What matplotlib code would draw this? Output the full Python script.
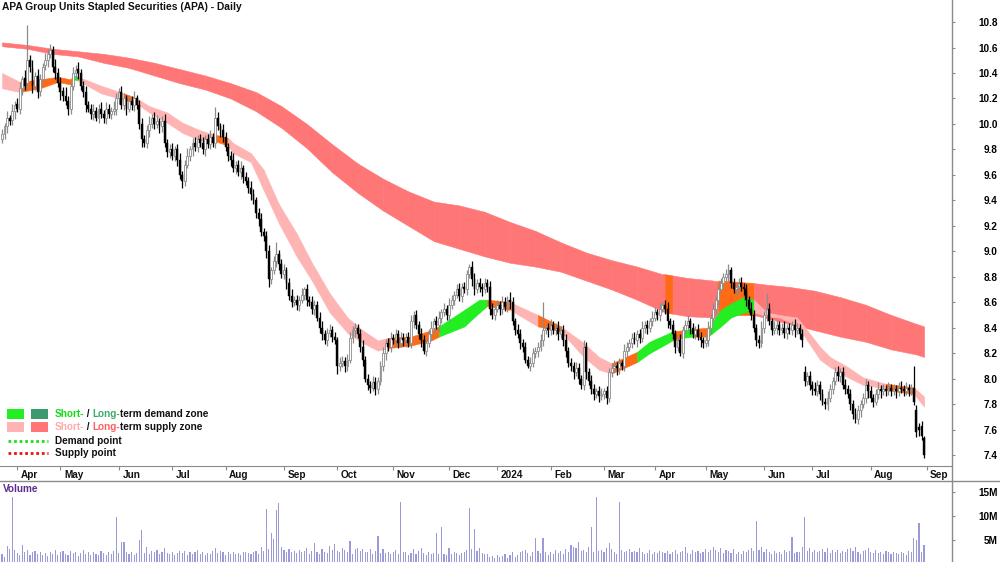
import numpy as np
import pandas as pd
import matplotlib
matplotlib.use("Agg")
import matplotlib.pyplot as plt
from matplotlib.lines import Line2D
from matplotlib.patches import Rectangle

plt.rcParams['font.family'] = ['Liberation Sans', 'DejaVu Sans']

# ---------------- data ----------------
title = "APA Group Units Stapled Securities (APA) - Daily"
holidays = ["2023-04-07", "2023-04-10", "2023-04-25", "2023-06-12", "2023-12-25",
            "2023-12-26", "2024-01-01", "2024-01-26", "2024-03-29", "2024-04-01",
            "2024-04-25", "2024-06-10"]
month_labels = ["Apr", "May", "Jun", "Jul", "Aug", "Sep", "Oct", "Nov", "Dec", "2024",
                "Feb", "Mar", "Apr", "May", "Jun", "Jul", "Aug", "Sep"]

close = [
    9.92, 9.98, 10.05, 10.02, 10.10, 10.15, 10.12, 10.28, 10.35, 10.30,
    10.50, 10.45, 10.30, 10.38, 10.25, 10.35, 10.45, 10.50, 10.55, 10.58,
    10.45, 10.40, 10.32, 10.25, 10.22, 10.18, 10.12, 10.30, 10.40, 10.42,
    10.40, 10.30, 10.25, 10.15, 10.12, 10.08, 10.10, 10.05, 10.12, 10.08,
    10.05, 10.12, 10.08, 10.10, 10.12, 10.20, 10.25, 10.15, 10.20, 10.12,
    10.18, 10.15, 10.20, 10.15, 10.00, 9.88, 9.85, 9.95, 10.00, 10.05,
    10.00, 10.02, 9.98, 10.02, 9.85, 9.78, 9.80, 9.75, 9.80, 9.72,
    9.60, 9.55, 9.68, 9.75, 9.80, 9.85, 9.82, 9.88, 9.85, 9.80,
    9.88, 9.84, 9.90, 9.85, 10.05, 9.98, 9.95, 9.90, 9.82, 9.75,
    9.72, 9.65, 9.68, 9.62, 9.65, 9.58, 9.55, 9.50, 9.45, 9.40,
    9.30, 9.25, 9.15, 9.12, 9.00, 8.78, 8.85, 8.92, 8.98, 8.90,
    8.82, 8.85, 8.75, 8.65, 8.60, 8.62, 8.58, 8.62, 8.66, 8.70,
    8.62, 8.60, 8.55, 8.58, 8.48, 8.40, 8.35, 8.30, 8.36, 8.38,
    8.33, 8.30, 8.10, 8.12, 8.14, 8.10, 8.15, 8.32, 8.38, 8.40,
    8.35, 8.25, 8.15, 8.00, 7.95, 7.93, 7.97, 7.92, 7.98, 8.10,
    8.20, 8.28, 8.25, 8.32, 8.30, 8.35, 8.28, 8.32, 8.30, 8.33,
    8.28, 8.45, 8.50, 8.42, 8.35, 8.30, 8.22, 8.28, 8.35, 8.40,
    8.45, 8.42, 8.48, 8.52, 8.55, 8.50, 8.58, 8.62, 8.66, 8.70,
    8.65, 8.72, 8.70, 8.82, 8.88, 8.78, 8.70, 8.75, 8.72, 8.70,
    8.75, 8.72, 8.55, 8.50, 8.55, 8.58, 8.55, 8.60, 8.56, 8.62,
    8.60, 8.45, 8.38, 8.35, 8.28, 8.25, 8.15, 8.10, 8.12, 8.20,
    8.22, 8.25, 8.30, 8.38, 8.40, 8.38, 8.42, 8.38, 8.40, 8.35,
    8.38, 8.30, 8.22, 8.12, 8.10, 8.05, 8.08, 8.00, 7.95, 8.25,
    8.05, 7.98, 7.92, 7.88, 7.90, 7.86, 7.88, 7.90, 7.85, 8.05,
    8.08, 8.10, 8.08, 8.12, 8.10, 8.22, 8.25, 8.28, 8.32, 8.30,
    8.35, 8.32, 8.40, 8.42, 8.40, 8.45, 8.48, 8.52, 8.50, 8.55,
    8.58, 8.55, 8.45, 8.42, 8.35, 8.25, 8.30, 8.20, 8.38, 8.42,
    8.45, 8.40, 8.35, 8.38, 8.33, 8.30, 8.28, 8.30, 8.40, 8.48,
    8.55, 8.62, 8.70, 8.75, 8.80, 8.82, 8.85, 8.75, 8.70, 8.72,
    8.75, 8.72, 8.70, 8.62, 8.55, 8.50, 8.40, 8.30, 8.28, 8.40,
    8.50, 8.55, 8.45, 8.38, 8.40, 8.42, 8.38, 8.40, 8.36, 8.40,
    8.38, 8.42, 8.38, 8.40, 8.35, 8.30, 7.98, 8.02, 7.95, 7.92,
    7.90, 7.95, 7.88, 7.82, 7.80, 7.85, 7.92, 7.98, 8.05, 8.02,
    8.05, 7.95, 7.92, 7.88, 7.80, 7.72, 7.68, 7.75, 7.80, 7.85,
    7.95, 7.90, 7.85, 7.82, 7.88, 7.92, 7.90, 7.92, 7.90, 7.93,
    7.90, 7.92, 7.90, 7.93, 7.92, 7.90, 7.93, 7.91, 7.92, 7.82,
    7.58, 7.60, 7.55, 7.40]

open_ = [
    9.88, 9.92, 9.98, 10.05, 10.03, 10.10, 10.16, 10.12, 10.28, 10.36,
    10.32, 10.50, 10.44, 10.30, 10.38, 10.26, 10.35, 10.46, 10.50, 10.55,
    10.58, 10.45, 10.40, 10.32, 10.26, 10.22, 10.18, 10.12, 10.30, 10.40,
    10.43, 10.40, 10.30, 10.25, 10.15, 10.12, 10.08, 10.10, 10.05, 10.12,
    10.08, 10.05, 10.12, 10.08, 10.10, 10.12, 10.20, 10.25, 10.15, 10.20,
    10.12, 10.18, 10.15, 10.20, 10.15, 10.00, 9.88, 9.85, 9.95, 10.00,
    10.05, 10.00, 10.02, 9.98, 10.02, 9.85, 9.78, 9.80, 9.75, 9.80,
    9.72, 9.60, 9.55, 9.68, 9.75, 9.80, 9.85, 9.82, 9.88, 9.85,
    9.80, 9.88, 9.84, 9.90, 9.85, 10.05, 9.98, 9.95, 9.90, 9.82,
    9.75, 9.72, 9.65, 9.68, 9.62, 9.65, 9.58, 9.55, 9.50, 9.45,
    9.40, 9.30, 9.25, 9.15, 9.12, 9.00, 8.78, 8.85, 8.92, 8.98,
    8.90, 8.82, 8.85, 8.75, 8.65, 8.60, 8.62, 8.58, 8.62, 8.66,
    8.70, 8.62, 8.60, 8.55, 8.58, 8.48, 8.40, 8.35, 8.30, 8.36,
    8.38, 8.33, 8.30, 8.10, 8.12, 8.14, 8.10, 8.15, 8.32, 8.38,
    8.40, 8.35, 8.25, 8.15, 8.00, 7.95, 7.93, 7.97, 7.92, 7.98,
    8.10, 8.20, 8.28, 8.25, 8.32, 8.30, 8.35, 8.28, 8.32, 8.30,
    8.33, 8.28, 8.45, 8.50, 8.42, 8.35, 8.30, 8.22, 8.28, 8.35,
    8.40, 8.45, 8.42, 8.48, 8.52, 8.55, 8.50, 8.58, 8.62, 8.66,
    8.70, 8.65, 8.72, 8.70, 8.82, 8.88, 8.78, 8.70, 8.75, 8.72,
    8.70, 8.75, 8.72, 8.55, 8.50, 8.55, 8.58, 8.55, 8.60, 8.56,
    8.62, 8.60, 8.45, 8.38, 8.35, 8.28, 8.25, 8.15, 8.10, 8.12,
    8.20, 8.22, 8.25, 8.30, 8.38, 8.40, 8.38, 8.42, 8.38, 8.40,
    8.35, 8.38, 8.30, 8.22, 8.12, 8.10, 8.05, 8.08, 8.00, 7.95,
    8.25, 8.05, 7.98, 7.92, 7.88, 7.90, 7.86, 7.88, 7.90, 7.85,
    8.05, 8.08, 8.10, 8.08, 8.12, 8.10, 8.22, 8.25, 8.28, 8.32,
    8.30, 8.35, 8.32, 8.40, 8.42, 8.40, 8.45, 8.48, 8.52, 8.50,
    8.55, 8.58, 8.55, 8.45, 8.42, 8.35, 8.25, 8.30, 8.20, 8.38,
    8.42, 8.45, 8.40, 8.35, 8.38, 8.33, 8.30, 8.28, 8.30, 8.40,
    8.48, 8.55, 8.62, 8.70, 8.75, 8.80, 8.82, 8.85, 8.75, 8.70,
    8.72, 8.75, 8.72, 8.70, 8.62, 8.55, 8.50, 8.40, 8.30, 8.28,
    8.40, 8.50, 8.55, 8.45, 8.38, 8.40, 8.42, 8.38, 8.40, 8.36,
    8.40, 8.38, 8.42, 8.38, 8.40, 8.35, 8.05, 7.98, 8.02, 7.95,
    7.92, 7.90, 7.95, 7.88, 7.82, 7.80, 7.85, 7.92, 7.98, 8.05,
    8.02, 8.05, 7.95, 7.92, 7.88, 7.80, 7.72, 7.68, 7.75, 7.80,
    7.85, 7.95, 7.90, 7.85, 7.82, 7.88, 7.92, 7.90, 7.92, 7.90,
    7.93, 7.90, 7.92, 7.90, 7.93, 7.92, 7.90, 7.93, 7.91, 7.93,
    7.75, 7.62, 7.63, 7.53]

# upper / lower wick lengths in cents
upper_wick = [
    4, 3, 5, 2, 6, 3, 4, 5, 3, 6, 28, 4, 6, 3, 5, 4, 3, 6, 4, 5,
    3, 6, 4, 5, 3, 7, 4, 3, 5, 4, 6, 3, 4, 5, 3, 4, 6, 3, 4, 5,
    3, 5, 4, 3, 6, 4, 3, 5, 4, 3, 5, 4, 6, 3, 4, 5, 3, 4, 6, 3,
    4, 5, 3, 4, 6, 3, 4, 5, 3, 4, 5, 3, 4, 6, 3, 4, 5, 3, 4, 5,
    3, 4, 5, 3, 8, 4, 3, 5, 4, 3, 4, 5, 3, 4, 6, 3, 4, 3, 5, 4,
    3, 4, 5, 3, 4, 5, 3, 4, 9, 3, 4, 5, 3, 4, 5, 3, 4, 3, 5, 2,
    4, 3, 5, 4, 3, 4, 5, 3, 4, 5, 3, 4, 3, 5, 4, 3, 4, 5, 3, 4,
    3, 4, 5, 3, 4, 3, 5, 4, 3, 4, 5, 3, 4, 5, 3, 4, 3, 5, 4, 3,
    4, 5, 3, 4, 3, 5, 4, 3, 4, 5, 3, 4, 5, 3, 4, 3, 5, 4, 3, 4,
    5, 3, 4, 3, 2, 4, 5, 3, 4, 3, 4, 3, 5, 4, 3, 4, 3, 5, 4, 3,
    6, 4, 3, 5, 4, 3, 4, 3, 5, 4, 3, 4, 5, 22, 3, 4, 5, 3, 4, 5,
    3, 4, 5, 3, 4, 3, 5, 4, 3, 5, 4, 3, 5, 4, 3, 4, 5, 3, 4, 3,
    4, 5, 3, 4, 3, 5, 4, 3, 4, 5, 3, 4, 5, 3, 4, 3, 5, 4, 3, 4,
    2, 4, 5, 3, 4, 3, 4, 5, 3, 4, 5, 3, 4, 3, 5, 4, 3, 4, 5, 3,
    4, 3, 5, 4, 3, 4, 5, 3, 4, 3, 4, 5, 3, 4, 3, 5, 4, 3, 4, 5,
    3, 12, 4, 3, 5, 4, 3, 4, 5, 3, 4, 3, 5, 4, 3, 4, 5, 3, 4, 3,
    5, 4, 3, 4, 3, 5, 4, 3, 4, 5, 3, 4, 5, 3, 4, 3, 5, 4, 3, 4,
    5, 3, 4, 3, 4, 5, 3, 4, 3, 4, 3, 4, 3, 4, 5, 3, 4, 3, 4, 17,
    4, 3, 4, 2]
lower_wick = [
    3, 4, 5, 3, 4, 6, 3, 4, 5, 3, 5, 4, 6, 3, 5, 4, 3, 4, 5, 3,
    4, 5, 3, 6, 4, 3, 5, 4, 3, 4, 5, 3, 4, 6, 3, 4, 5, 3, 4, 3,
    4, 5, 3, 4, 3, 5, 4, 3, 4, 5, 3, 4, 5, 3, 4, 6, 3, 4, 5, 3,
    4, 3, 5, 4, 3, 4, 5, 3, 4, 5, 3, 5, 4, 3, 4, 5, 3, 4, 3, 4,
    5, 3, 4, 3, 4, 3, 5, 4, 3, 4, 5, 3, 4, 3, 5, 4, 3, 4, 5, 3,
    4, 5, 3, 4, 5, 6, 4, 3, 4, 5, 3, 4, 5, 3, 4, 3, 4, 5, 3, 4,
    5, 3, 4, 5, 3, 4, 5, 3, 4, 3, 4, 3, 6, 4, 3, 5, 4, 3, 4, 5,
    3, 4, 5, 3, 4, 4, 3, 5, 4, 3, 4, 5, 3, 4, 3, 5, 4, 3, 4, 5,
    3, 4, 5, 3, 4, 5, 3, 4, 3, 5, 4, 3, 5, 4, 3, 4, 5, 3, 4, 3,
    4, 5, 3, 4, 3, 5, 4, 3, 4, 5, 3, 4, 5, 3, 4, 3, 5, 4, 3, 4,
    5, 3, 4, 3, 5, 4, 3, 2, 4, 3, 4, 5, 3, 4, 3, 5, 4, 3, 4, 5,
    3, 4, 5, 3, 4, 5, 3, 4, 3, 4, 5, 3, 4, 5, 3, 4, 3, 4, 5, 3,
    4, 3, 5, 4, 3, 4, 5, 3, 4, 3, 5, 4, 3, 4, 5, 3, 4, 3, 4, 5,
    3, 4, 5, 3, 4, 5, 3, 2, 4, 3, 4, 5, 3, 4, 3, 5, 4, 3, 4, 5,
    3, 4, 5, 3, 4, 3, 5, 4, 3, 4, 5, 3, 4, 5, 3, 4, 3, 4, 4, 3,
    4, 5, 3, 4, 3, 5, 4, 3, 4, 5, 3, 4, 5, 3, 4, 5, 4, 3, 4, 5,
    3, 4, 5, 3, 4, 5, 3, 4, 3, 4, 5, 3, 4, 3, 5, 4, 3, 4, 5, 3,
    4, 5, 3, 4, 3, 4, 5, 3, 4, 3, 4, 3, 5, 4, 3, 4, 3, 5, 4, 3,
    4, 5, 3, 2]

volume_m = [
    2.0, 1.5, 3.8, 3.2, 14.0, 3.0, 2.2, 1.8, 4.0, 2.5,
    3.0, 1.8, 2.4, 2.8, 2.0, 2.6, 1.9, 2.2, 1.6, 2.5,
    2.1, 3.0, 1.8, 2.4, 2.7, 2.0, 1.9, 2.8, 2.2, 2.5,
    1.7, 2.3, 2.9, 2.0, 2.4, 1.8, 2.6, 2.1, 1.9, 2.7,
    2.3, 1.8, 2.5, 2.0, 2.8, 9.8, 2.2, 4.6, 4.6, 2.4,
    2.0, 2.6, 1.9, 2.3, 5.0, 7.0, 2.2, 3.5, 2.0, 2.8,
    2.4, 2.9, 2.1, 2.6, 3.4, 2.2, 2.0, 2.5, 1.9, 2.3,
    2.7, 2.2, 2.8, 1.8, 2.4, 2.0, 2.6, 2.9, 2.1, 2.5,
    1.8, 2.3, 2.0, 2.7, 3.3, 2.2, 2.8, 2.4, 1.9, 2.6,
    2.1, 2.5, 2.0, 2.3, 1.8, 2.4, 2.6, 2.2, 2.0, 2.5,
    2.7, 2.1, 3.6, 2.8, 11.5, 3.2, 6.5, 5.2, 11.2, 12.7,
    3.5, 3.0, 2.6, 3.1, 2.4, 2.8, 2.2, 3.0, 2.5, 2.7,
    3.4, 2.1, 2.8, 4.3, 2.5, 2.0, 3.2, 2.6, 2.2, 3.8,
    3.0, 4.2, 2.7, 2.4, 3.3, 2.9, 2.5, 4.8, 2.1, 3.1,
    3.4, 2.8, 3.2, 2.6, 2.4, 3.1, 2.0, 2.7, 5.8, 2.3,
    3.2, 2.2, 2.6, 2.1, 2.4, 2.9, 2.0, 12.9, 2.4, 2.6,
    1.9, 2.3, 3.1, 2.0, 2.7, 3.3, 2.2, 1.8, 2.5, 2.0,
    2.2, 6.5, 2.1, 7.7, 2.0, 1.8, 3.4, 2.0, 2.6, 2.2,
    1.8, 2.3, 2.5, 3.0, 11.7, 3.1, 7.3, 2.8, 3.4, 2.2,
    2.1, 2.0, 1.5, 1.7, 1.2, 1.8, 1.4, 1.6, 2.0, 1.3,
    1.8, 2.6, 1.5, 1.9, 2.4, 2.8, 3.0, 2.2, 1.6, 2.5,
    5.4, 2.7, 2.2, 5.4, 2.4, 1.8, 2.6, 2.0, 2.9, 2.2,
    2.8, 2.0, 3.1, 2.5, 4.0, 3.6, 3.3, 4.5, 2.8, 3.0,
    2.6, 3.5, 7.7, 2.4, 14.0, 2.8, 3.0, 2.5, 3.3, 4.4,
    3.2, 2.4, 2.0, 12.9, 3.0, 2.6, 2.8, 3.2, 2.4, 2.7,
    2.5, 3.3, 2.6, 2.0, 2.2, 3.0, 2.1, 2.6, 2.3, 2.7,
    2.4, 2.2, 2.8, 2.1, 2.5, 3.0, 2.0, 2.4, 2.7, 3.5,
    2.3, 2.1, 3.0, 2.4, 2.8, 2.2, 2.6, 3.1, 2.5, 2.9,
    3.6, 3.0, 2.4, 3.4, 2.2, 3.0, 2.7, 2.3, 3.2, 2.1,
    2.5, 2.0, 2.7, 2.4, 3.0, 3.4, 2.8, 9.0, 3.0, 3.5,
    2.4, 3.2, 2.6, 2.1, 2.8, 2.3, 2.5, 2.0, 3.0, 2.4,
    2.7, 5.6, 2.2, 2.6, 2.4, 3.5, 9.8, 2.8, 3.3, 2.5,
    3.0, 2.4, 2.8, 3.2, 2.6, 3.4, 2.3, 2.9, 2.5, 3.0,
    2.2, 2.7, 2.4, 3.1, 3.3, 2.8, 3.6, 2.5, 2.1, 2.7,
    3.0, 3.4, 2.6, 2.3, 2.9, 2.2, 2.5, 2.0, 2.7, 2.4,
    2.1, 2.6, 2.3, 2.0, 2.5, 2.2, 1.9, 2.8, 2.6, 5.4,
    5.0, 8.5, 2.5, 4.0]

# long-term zone (bar index, upper edge, lower edge, state of following segment)
long_idx = [0, 10, 20, 30, 40, 50, 60, 70, 80, 90, 100, 110, 120, 130, 140, 150,
            160, 170, 180, 190, 200, 210, 220, 230, 240, 250, 260, 261, 264, 270,
            280, 282, 290, 296, 300, 310, 320, 330, 340, 350, 360, 363]
long_top = [10.64, 10.62, 10.59, 10.57, 10.55, 10.52, 10.48, 10.43, 10.38, 10.32,
            10.25, 10.14, 10.00, 9.84, 9.69, 9.57, 9.47, 9.39, 9.36, 9.31, 9.23,
            9.16, 9.07, 8.99, 8.93, 8.88, 8.82, 8.82, 8.81, 8.79, 8.77, 8.77,
            8.76, 8.75, 8.74, 8.72, 8.69, 8.64, 8.58, 8.50, 8.43, 8.41]
long_bot = [10.61, 10.59, 10.55, 10.53, 10.48, 10.44, 10.38, 10.32, 10.27, 10.20,
            10.10, 9.97, 9.81, 9.62, 9.46, 9.32, 9.20, 9.08, 9.02, 8.96, 8.91,
            8.88, 8.84, 8.77, 8.70, 8.62, 8.53, 8.52, 8.51, 8.49, 8.48, 8.48,
            8.50, 8.50, 8.48, 8.43, 8.38, 8.33, 8.29, 8.23, 8.19, 8.17]
long_state = ["s"] * 26 + ["s", "n", "s", "s", "s", "n", "n", "s", "s", "s",
                           "s", "s", "s", "s", "s"]

# short-term zone
short_idx = [0, 7, 15, 22, 27, 28, 30, 39, 48, 53, 58, 65, 71, 78, 83, 89, 91, 98,
             103, 109, 116, 122, 129, 136, 142, 148, 152, 161, 169, 172, 182, 188,
             191, 200, 211, 220, 229, 235, 240, 250, 255, 264, 268, 272, 278, 283,
             287, 292, 296, 301, 306, 313, 317, 322, 326, 333, 339, 346, 348, 359, 363]
short_top = [10.40, 10.33, 10.35, 10.37, 10.35, 10.38, 10.37, 10.30, 10.24, 10.20,
             10.14, 10.09, 10.01, 9.95, 9.92, 9.89, 9.85, 9.77, 9.64, 9.37,
             9.14, 8.91, 8.67, 8.48, 8.38, 8.30, 8.32, 8.33, 8.38, 8.41,
             8.54, 8.62, 8.62, 8.60, 8.50, 8.41, 8.28, 8.17, 8.12, 8.21,
             8.29, 8.37, 8.38, 8.39, 8.40, 8.54, 8.59, 8.64, 8.62, 8.52,
             8.50, 8.48, 8.38, 8.25, 8.17, 8.09, 8.01, 7.97, 7.96, 7.93, 7.86]
short_bot = [10.28, 10.25, 10.28, 10.33, 10.31, 10.35, 10.34, 10.24, 10.19, 10.16,
             10.09, 10.01, 9.93, 9.87, 9.87, 9.83, 9.77, 9.70, 9.48, 9.22,
             8.96, 8.77, 8.52, 8.36, 8.28, 8.22, 8.24, 8.26, 8.30, 8.33,
             8.41, 8.52, 8.57, 8.54, 8.41, 8.37, 8.17, 8.07, 8.04, 8.13,
             8.20, 8.30, 8.32, 8.33, 8.33, 8.41, 8.48, 8.52, 8.52, 8.49,
             8.48, 8.42, 8.30, 8.15, 8.09, 8.01, 7.95, 7.93, 7.91, 7.88, 7.78]
short_state = ["s", "n", "n", "n", "n", "d", "s", "s", "n", "s",
               "s", "s", "s", "s", "n", "s", "s", "s", "s", "s",
               "s", "s", "s", "s", "s", "s", "n", "n", "n", "d",
               "d", "d", "n", "s", "n", "s", "s", "s", "n", "d",
               "d", "n", "d", "n", "d", "d", "d", "d", "s", "s",
               "s", "s", "s", "s", "s", "s", "s", "s", "n", "s"]

# ---------------- styling ----------------
W, H = 1000, 562
C_LONG = {"s": "#ff7676", "n": "#ff6a16", "d": "#3d9970"}
C_SHORT = {"s": "#ffb4b4", "n": "#ff6a16", "d": "#22ee22"}
AX_GRAY = "#8a8a8a"

fig = plt.figure(figsize=(W / 100, H / 100), dpi=100)
ax = fig.add_axes([0, (H - 466) / H, 952 / W, 466 / H])
axv = fig.add_axes([0, 0, 952 / W, 81 / H])

n = len(close)
x = np.arange(n)
o = np.array(open_)
c = np.array(close)
hi = np.maximum(o, c) + np.array(upper_wick) / 100
lo = np.minimum(o, c) - np.array(lower_wick) / 100

# zones
for k in range(len(long_idx) - 1):
    xs = [long_idx[k], long_idx[k + 1]]
    col = C_LONG[long_state[k]]
    ax.fill_between(xs, [long_top[k], long_top[k + 1]], [long_bot[k], long_bot[k + 1]],
                    facecolor=col, edgecolor=col, lw=0.4, zorder=1)
for k in range(len(short_idx) - 1):
    xs = [short_idx[k], short_idx[k + 1]]
    col = C_SHORT[short_state[k]]
    ax.fill_between(xs, [short_top[k], short_top[k + 1]], [short_bot[k], short_bot[k + 1]],
                    facecolor=col, edgecolor=col, lw=0.4, zorder=2)

# candles
up = c >= o
body_b = np.minimum(o, c)
body_h = np.maximum(np.abs(c - o), 0.006)
ax.vlines(x[up], lo[up], hi[up], color="#8c8c8c", lw=0.9, zorder=3)
ax.vlines(x[~up], lo[~up], hi[~up], color="black", lw=0.9, zorder=3)
ax.bar(x[up], body_h[up], bottom=body_b[up], width=0.75, facecolor="white",
       edgecolor="#8c8c8c", linewidth=0.6, zorder=4)
ax.bar(x[~up], body_h[~up], bottom=body_b[~up], width=0.75, facecolor="black",
       edgecolor="black", linewidth=0.3, zorder=4)

ax.set_xlim(-0.79, 374.0)
ax.set_ylim(7.314, 10.973)

# volume
axv.bar(x, volume_m, width=0.45, color="#9a9ad8", linewidth=0)
axv.set_xlim(-0.79, 374.0)
axv.set_ylim(0.42, 17.29)

# axes styling
for a in (ax, axv):
    for s in ("left", "top", "bottom", "right"):
        a.spines[s].set_visible(False)
    a.patch.set_alpha(0)
ax.spines["bottom"].set_visible(True)
ax.spines["bottom"].set_color(AX_GRAY)

# price ticks on right
yt = np.round(np.arange(7.4, 10.81, 0.2), 1)
ax.yaxis.tick_right()
ax.set_yticks(yt)
ax.set_yticklabels([f"{v:.1f}" for v in yt])
ax.tick_params(axis="y", right=True, left=False, direction="out", length=2.5, width=0.8,
               color=AX_GRAY, pad=30.5, labelsize=7.2)
for t in ax.get_yticklabels():
    t.set_horizontalalignment("right")
    t.set_fontweight("bold")

axv.yaxis.tick_right()
axv.set_yticks([5, 10, 15])
axv.set_yticklabels(["5M", "10M", "15M"])
axv.tick_params(axis="y", right=True, left=False, direction="out", length=2.5, width=0.8,
                color=AX_GRAY, pad=30.5, labelsize=7.2)
for t in axv.get_yticklabels():
    t.set_horizontalalignment("right")
    t.set_fontweight("bold")
axv.set_xticks([])

# month ticks
dates = pd.bdate_range("2023-03-24", "2024-08-30", freq="C", holidays=holidays)[:n]
month_pos = [i for i in range(1, len(dates)) if dates[i].month != dates[i - 1].month]
month_pos.append(n)
ax.set_xticks(month_pos)
ax.set_xticklabels([])
ax.tick_params(axis="x", direction="out", length=3, width=0.8, color=AX_GRAY)
for pos, lab in zip(month_pos, month_labels):
    ax.annotate(lab, xy=(pos, 0), xycoords=("data", "axes fraction"),
                xytext=(2.5, -6.5), textcoords="offset points", ha="left", va="center",
                fontsize=7.2, fontweight="bold", color="#111111", annotation_clip=False)

# frame lines
fig.add_artist(Line2D([952 / W, 952 / W], [0, 1], transform=fig.transFigure,
                      color=AX_GRAY, lw=1))
fig.add_artist(Line2D([0, 1], [1 - 481 / H, 1 - 481 / H], transform=fig.transFigure,
                      color=AX_GRAY, lw=1))

# title and volume label
fig.text(2 / W, 1 - 7 / H, title, fontsize=7.4, fontweight="bold", ha="left",
         va="center", color="#111111")
fig.text(3 / W, 1 - 489 / H, "Volume", fontsize=7.2, fontweight="bold", ha="left",
         va="center", color="#5b2d8e")

# legend
def fpx(xp, yp):
    return xp / W, 1 - yp / H

def sq(x0, y0, w, h, col):
    fig.add_artist(Rectangle((x0 / W, 1 - (y0 + h) / H), w / W, h / H,
                             transform=fig.transFigure, facecolor=col, edgecolor="none"))

sq(7, 409, 17, 10, C_SHORT["d"])
sq(31, 409, 17, 10, C_LONG["d"])
sq(7, 422, 17, 10, C_SHORT["s"])
sq(31, 422, 17, 10, C_LONG["s"])
fig.add_artist(Line2D([8 / W, 48 / W], [1 - 441 / H] * 2, transform=fig.transFigure,
                      color="#22dd22", lw=2, linestyle=(0, (1, 1))))
fig.add_artist(Line2D([8 / W, 48 / W], [1 - 453 / H] * 2, transform=fig.transFigure,
                      color="#ee1111", lw=2, linestyle=(0, (1, 1))))

renderer = fig.canvas.get_renderer()

def rich(xp, yp, parts):
    cur = xp
    for s, col in parts:
        t = fig.text(*fpx(cur, yp), s, color=col, fontsize=7.2, fontweight="bold",
                     ha="left", va="center")
        cur += t.get_window_extent(renderer=renderer).width

rich(55, 414, [("Short-", "#11dd11"), (" / ", "#111111"), ("Long-", "#3daa70"),
               ("term demand zone", "#111111")])
rich(55, 427, [("Short-", "#ffaaaa"), (" / ", "#111111"), ("Long-", "#ff6060"),
               ("term supply zone", "#111111")])
rich(55, 441, [("Demand point", "#111111")])
rich(55, 453, [("Supply point", "#111111")])

fig.savefig("out.png", dpi=100)
